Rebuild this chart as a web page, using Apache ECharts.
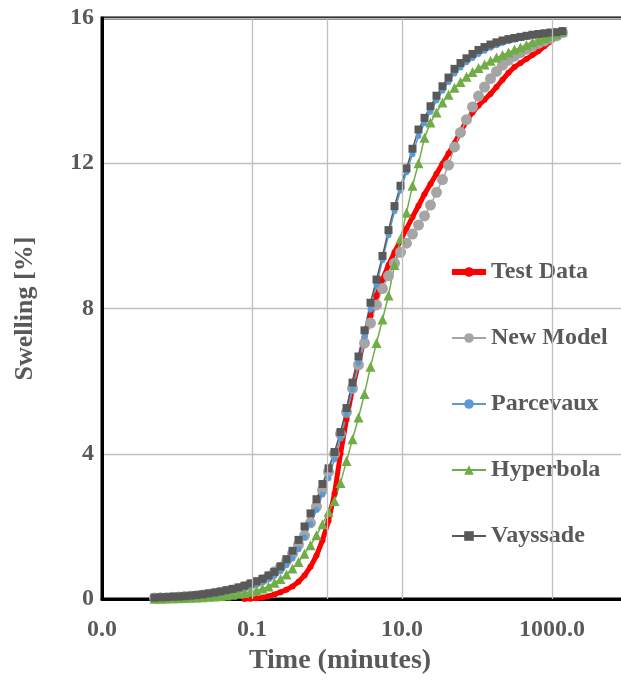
<!DOCTYPE html>
<html><head><meta charset="utf-8">
<script src="https://cdn.jsdelivr.net/npm/echarts@6/dist/echarts.min.js"></script>
<style>html,body{margin:0;padding:0;overflow:hidden;background:#fff}#c{width:632px;height:680px}</style>
</head><body><div id="c"></div><script>
const times = [0.00501,0.00603,0.00724,0.00871,0.01047,0.01259,0.01514,0.0182,0.02188,0.0263,0.03162,0.03802,0.04571,0.05495,0.06607,0.07943,0.0955,0.1148,0.138,0.166,0.1995,0.2399,0.2884,0.3467,0.4169,0.5012,0.6026,0.7244,0.871,1.047,1.259,1.514,1.82,2.188,2.63,3.162,3.802,4.571,5.495,6.607,7.943,9.55,11.48,13.8,16.6,19.95,23.99,28.84,34.67,41.69,50.12,60.26,72.44,87.1,104.7,125.9,151.4,182,218.8,263,316.2,380.2,457.1,549.5,660.7,794.3,955,1148,1380];
const testData = [null,null,null,null,null,null,null,null,null,null,null,null,null,null,null,0,0.01,0.02,0.045,0.08,0.13,0.19,0.26,0.35,0.48,0.65,0.89,1.2,1.62,2.15,2.9,4.0,4.95,5.8,6.5,7.2,7.8,8.35,8.8,9.2,9.55,9.87,10.2,10.52,10.83,11.15,11.43,11.71,11.99,12.27,12.55,12.87,13.16,13.4,13.59,13.75,13.91,14.1,14.3,14.49,14.65,14.76,14.87,14.98,15.09,15.22,15.35,15.47,15.62];
const newModel = [0.03,0.035,0.04,0.05,0.055,0.07,0.08,0.095,0.115,0.135,0.16,0.185,0.215,0.25,0.29,0.34,0.4,0.46,0.53,0.62,0.75,0.88,1.05,1.25,1.5,1.75,2.1,2.55,3.0,3.5,4.0,4.55,5.15,5.8,6.45,7.05,7.6,8.1,8.55,8.9,9.25,9.55,9.8,10.05,10.3,10.55,10.85,11.2,11.55,11.95,12.45,12.85,13.2,13.55,13.85,14.1,14.33,14.53,14.7,14.84,14.95,15.05,15.14,15.22,15.3,15.37,15.44,15.51,15.6];
const parcevaux = [0.03,0.035,0.04,0.05,0.055,0.065,0.075,0.09,0.105,0.12,0.14,0.165,0.195,0.23,0.26,0.3,0.35,0.41,0.47,0.55,0.64,0.77,0.93,1.12,1.37,1.7,2.06,2.45,2.88,3.33,3.85,4.42,5.07,5.77,6.5,7.23,7.98,8.65,9.33,10.02,10.68,11.25,11.75,12.25,12.75,13.1,13.42,13.73,14.0,14.24,14.47,14.64,14.78,14.9,15.01,15.1,15.18,15.25,15.31,15.36,15.4,15.44,15.48,15.51,15.54,15.56,15.58,15.6,15.63];
const hyperbola = [0.01,0.013,0.017,0.021,0.025,0.03,0.037,0.045,0.053,0.062,0.075,0.087,0.1,0.12,0.145,0.17,0.2,0.24,0.29,0.35,0.45,0.55,0.68,0.84,1.02,1.25,1.48,1.76,2.06,2.4,2.7,3.2,3.8,4.4,5.0,5.65,6.4,7.05,7.7,8.36,9.2,9.92,10.64,11.38,12.0,12.7,13.12,13.4,13.67,13.89,14.08,14.24,14.38,14.51,14.62,14.72,14.82,14.91,14.98,15.05,15.13,15.19,15.26,15.33,15.39,15.45,15.5,15.55,15.62];
const vayssade = [0.04,0.05,0.055,0.065,0.07,0.08,0.095,0.11,0.13,0.155,0.18,0.21,0.245,0.28,0.32,0.37,0.43,0.49,0.56,0.65,0.75,0.9,1.1,1.33,1.63,2.0,2.36,2.75,3.17,3.6,4.05,4.6,5.26,5.96,6.68,7.4,8.16,8.8,9.45,10.16,10.82,11.38,11.86,12.4,12.93,13.25,13.57,13.86,14.12,14.36,14.6,14.76,14.89,15.01,15.12,15.2,15.27,15.33,15.38,15.42,15.45,15.48,15.51,15.54,15.56,15.58,15.6,15.61,15.64];
const seriesNames = ['Test Data','New Model','Parcevaux','Hyperbola','Vayssade'];
const xTickValues = [0.001,0.1,10,1000];
const xTickLabels = ['0.0','0.1','10.0','1000.0'];
const xGridValues = [0.1,1,10,1000];

const FONT = '"Liberation Serif","Times New Roman",serif';
const TXT = '#595959';
function pairs(vals){ return times.map((t,i)=> vals[i]==null ? null : [t, vals[i]]).filter(p=>p); }
function lineSeries(name, vals, color, symbol, size, width){
  return {name, type:'line', data:pairs(vals), symbol, symbolSize:size, showAllSymbol:true,
    lineStyle:{color, width}, itemStyle:{color}, z:3};
}
const chart = echarts.init(document.getElementById('c'), null, {renderer:'canvas'});
chart.setOption({
  animation:false,
  backgroundColor:'#fff',
  grid:{left:102, right:5, top:18, bottom:77, show:true, borderColor:'#000', borderWidth:3},
  legend:{orient:'vertical', left:444, top:255, itemWidth:34, itemHeight:12, itemGap:42,
    data:[{name:seriesNames[0], lineStyle:{width:6}}, seriesNames[1], seriesNames[2], seriesNames[3], seriesNames[4]],
    textStyle:{fontFamily:FONT, fontWeight:'bold', fontSize:24, color:TXT, lineHeight:24}},
  xAxis:{type:'log', logBase:10, min:0.001, max:10000,
    name:'Time (minutes)', nameLocation:'middle', nameGap:47,
    nameTextStyle:{fontFamily:FONT, fontWeight:'bold', fontSize:28, color:TXT, padding:[0,49,0,0]},
    axisLine:{show:true, lineStyle:{color:'#000', width:3}},
    axisTick:{show:false}, splitLine:{show:false}, minorSplitLine:{show:false},
    axisLabel:{fontFamily:FONT, fontWeight:'bold', fontSize:24, color:TXT, margin:19, showMaxLabel:false,
      formatter:function(v){
        for(let i=0;i<xTickValues.length;i++){
          if(Math.abs(Math.log10(v)-Math.log10(xTickValues[i]))<1e-6) return xTickLabels[i];
        }
        return '';
      }}},
  yAxis:{type:'value', min:0, max:16, interval:4,
    name:'Swelling [%]', nameLocation:'middle', nameGap:64, nameRotate:90,
    nameTextStyle:{fontFamily:FONT, fontWeight:'bold', fontSize:26, color:TXT},
    axisLine:{show:true, lineStyle:{color:'#000', width:3}}, axisTick:{show:false},
    splitLine:{show:true, lineStyle:{color:'#BFBFBF', width:1.3}},
    axisLabel:{fontFamily:FONT, fontWeight:'bold', fontSize:24, color:TXT, margin:8}},
  series:[
    {name:'grid', type:'line', data:[], z:1, silent:true,
      markLine:{silent:true, symbol:['none','none'], label:{show:false},
        lineStyle:{color:'#BFBFBF', width:1.3, type:'solid'},
        data:xGridValues.map(v=>({xAxis:v}))}},
    lineSeries(seriesNames[0], testData, '#FF0000', 'circle', 6, 5),
    lineSeries(seriesNames[1], newModel, '#A5A5A5', 'circle', 11, 1.5),
    lineSeries(seriesNames[2], parcevaux, '#5B9BD5', 'circle', 6, 1.5),
    lineSeries(seriesNames[3], hyperbola, '#70AD47', 'triangle', 10, 1.5),
    lineSeries(seriesNames[4], vayssade, '#595959', 'rect', 8, 1.5)
  ]
});
</script></body></html>
